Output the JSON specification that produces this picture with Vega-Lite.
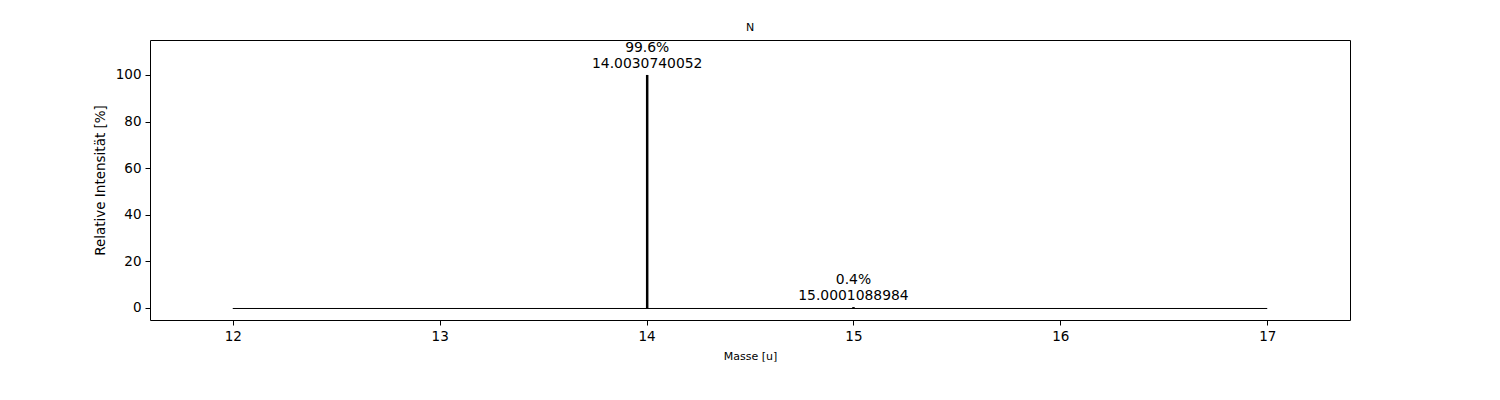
{
  "$schema": "https://vega.github.io/schema/vega-lite/v6.json",
  "width": 1200,
  "height": 280,
  "autosize": {"type": "none"},
  "padding": {"left": 150, "top": 40, "right": 150, "bottom": 80},
  "background": "white",
  "config": {
    "font": "DejaVu Sans",
    "view": {"stroke": "black", "strokeWidth": 1},
    "axis": {
      "grid": false,
      "domain": false,
      "tickColor": "black",
      "tickSize": 5,
      "tickWidth": 1,
      "labelColor": "black",
      "labelFontSize": 13.5,
      "labelFont": "DejaVu Sans",
      "labelPadding": 4,
      "titleFont": "DejaVu Sans",
      "titleFontWeight": "normal",
      "titleColor": "black"
    },
    "title": {"font": "DejaVu Sans", "fontSize": 11, "fontWeight": "normal", "color": "black", "offset": 7}
  },
  "title": {"text": "N", "anchor": "middle"},
  "datasets": {
    "peaks": [
      {"mass": 14.0030740052, "intensity": 100, "base": 0, "label": "99.6%\n14.0030740052"},
      {"mass": 15.0001088984, "intensity": 0.4016, "base": 0, "label": "0.4%\n15.0001088984"}
    ],
    "baseline": [
      {"start": 12, "end": 17, "level": 0}
    ]
  },
  "layer": [
    {
      "data": {"name": "baseline"},
      "mark": {"type": "rule", "color": "black", "strokeWidth": 1, "yOffset": 0.5},
      "encoding": {
        "x": {"field": "start", "type": "quantitative", "scale": {"domain": [11.6, 17.4], "nice": false, "zero": false},
              "axis": {"title": "Masse [u]", "titleFontSize": 11, "titlePadding": 8, "values": [12, 13, 14, 15, 16, 17], "format": "d"}},
        "x2": {"field": "end"},
        "y": {"field": "level", "type": "quantitative", "scale": {"domain": [-5.15, 115], "nice": false, "zero": false},
              "axis": {"title": "Relative Intensität [%]", "titleFontSize": 13.5, "titlePadding": 8, "values": [0, 20, 40, 60, 80, 100]}}
      }
    },
    {
      "data": {"name": "peaks"},
      "mark": {"type": "rule", "color": "black", "strokeWidth": 2.5},
      "encoding": {
        "x": {"field": "mass", "type": "quantitative"},
        "y": {"field": "intensity", "type": "quantitative"},
        "y2": {"field": "base"}
      }
    },
    {
      "data": {"name": "peaks"},
      "mark": {"type": "text", "lineBreak": "\n", "baseline": "bottom", "align": "center", "fontSize": 13.9, "dy": -20, "color": "black", "lineHeight": 16},
      "encoding": {
        "x": {"field": "mass", "type": "quantitative"},
        "y": {"field": "intensity", "type": "quantitative"},
        "text": {"field": "label", "type": "nominal"}
      }
    }
  ]
}
